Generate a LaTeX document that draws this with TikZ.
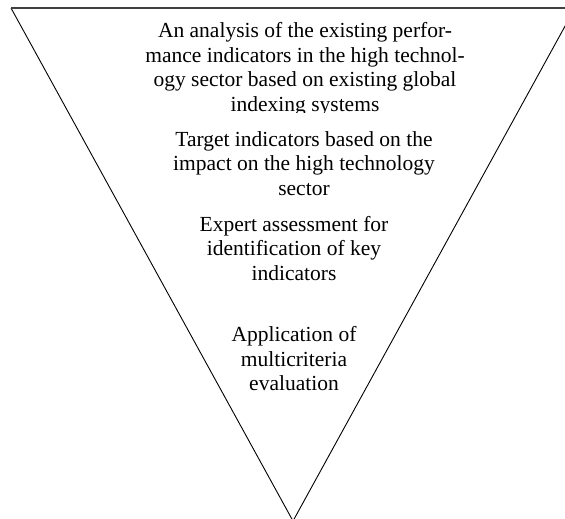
\documentclass[tikz,border=0pt]{standalone}
\usepackage{fontspec}
\setmainfont{Liberation Serif}
\begin{document}
\begin{tikzpicture}[x=1pt,y=-1pt,
  label/.style={align=center,inner sep=0pt,font=\fontsize{21.5}{24.5}\selectfont},
  topedge/.style={draw=black!75,line width=1.6pt},
  sideedge/.style={draw=black,line width=0.9pt}]
\clip (0,0) rectangle (565,519);
\coordinate (tl) at (11,8);
\coordinate (tr) at (575,8);
\coordinate (ap) at (293,521);
\draw[sideedge] (tl) -- (ap) -- (tr);
\draw[topedge] (tl) -- (tr);
\begin{scope}
\clip (0,0) rectangle (565,112);
\node[label] (a) at (305,69.5) {An analysis of the existing perfor-\\mance indicators in the high technol-\\ogy sector based on existing global\\indexing systems};
\end{scope}
\node[label] (b) at (304,163.5) {Target indicators based on the\\impact on the high technology\\sector};
\node[label] (c) at (294,248.5) {Expert assessment for\\identification of key\\indicators};
\node[label] (d) at (294,359) {Application of\\multicriteria\\evaluation};
\end{tikzpicture}
\end{document}
